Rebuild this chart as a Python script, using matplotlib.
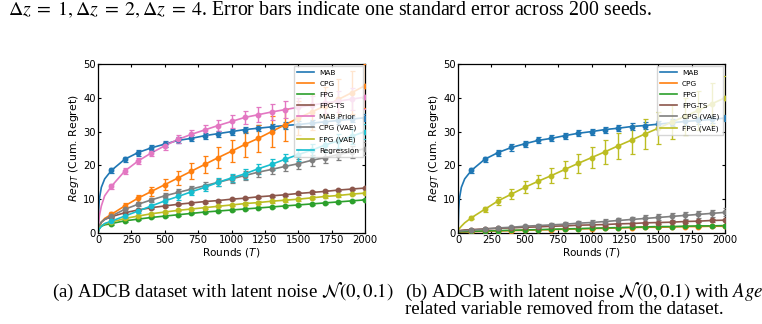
import matplotlib
matplotlib.use("Agg")
import matplotlib.pyplot as plt
import numpy as np

# ---------------- data ----------------
rounds_early = [0, 5, 10, 25, 50]
rounds = [100, 200, 300, 400, 500, 600, 700, 800, 900, 1000,
          1100, 1200, 1300, 1400, 1500, 1600, 1700, 1800, 1900, 2000]
x_ticks = [0, 250, 500, 750, 1000, 1250, 1500, 1750, 2000]
y_ticks = [0, 10, 20, 30, 40, 50]

# Panel (a)
a_labels = ["MAB", "CPG", "FPG", "FPG-TS", "MAB Prior", "CPG (VAE)", "FPG (VAE)", "Regression"]
a_colors = ["#1f77b4", "#ff7f0e", "#2ca02c", "#8c564b", "#e377c2", "#7f7f7f", "#bcbd22", "#17becf"]

a_mab_early = [0, 7, 10, 13.5, 16]
a_mab = [18.5, 21.8, 23.8, 25.2, 26.3, 27.4, 28.0, 28.8, 29.4, 30.0,
         30.6, 31.0, 31.4, 31.8, 32.1, 32.5, 32.9, 33.3, 33.7, 34.1]
a_mab_err = [0.7, 0.8, 0.9, 0.9, 0.9, 0.9, 0.9, 0.9, 0.9, 0.9,
             0.9, 0.9, 0.9, 0.9, 0.9, 1.0, 1.0, 1.0, 1.0, 1.0]

a_cpg_early = [0, 1.2, 2.0, 3.2, 4.3]
a_cpg = [5.5, 8.0, 10.3, 12.3, 14.3, 16.3, 18.3, 20.3, 22.3, 24.2,
         26.2, 28.0, 30.0, 32.0, 34.0, 35.8, 37.6, 39.5, 41.5, 43.6]
a_cpg_err = [0.6, 0.8, 1.0, 1.3, 1.6, 2.0, 2.3, 2.6, 3.0, 3.3,
             3.8, 4.0, 4.5, 4.8, 5.0, 5.3, 5.6, 6.0, 6.3, 6.5]

a_fpg_early = [0, 0.9, 1.3, 2.0, 2.4]
a_fpg = [2.8, 3.6, 4.1, 4.6, 5.0, 5.4, 5.8, 6.2, 6.5, 6.8,
         7.1, 7.4, 7.7, 8.0, 8.3, 8.6, 8.9, 9.2, 9.5, 9.8]
a_fpg_err = [0.3, 0.3, 0.3, 0.3, 0.3, 0.3, 0.3, 0.3, 0.3, 0.3,
             0.3, 0.3, 0.3, 0.3, 0.3, 0.3, 0.3, 0.3, 0.3, 0.3]

a_fpgts_early = [0, 1.3, 2.0, 3.2, 4.0]
a_fpgts = [4.8, 6.0, 6.8, 7.5, 8.0, 8.5, 8.9, 9.3, 9.6, 10.0,
           10.3, 10.7, 11.0, 11.3, 11.7, 12.0, 12.3, 12.7, 13.0, 13.3]
a_fpgts_err = [0.3, 0.3, 0.3, 0.3, 0.3, 0.3, 0.3, 0.3, 0.3, 0.3,
               0.3, 0.3, 0.3, 0.3, 0.4, 0.4, 0.4, 0.4, 0.4, 0.4]

a_prior_early = [0, 3, 5, 8, 11]
a_prior = [13.8, 18.3, 21.3, 23.7, 25.8, 27.7, 29.2, 30.5, 31.8, 33.0,
           34.2, 35.0, 35.8, 36.5, 37.2, 37.8, 38.5, 39.0, 39.6, 40.2]
a_prior_err = [0.7, 0.8, 0.9, 1.0, 1.1, 1.2, 1.3, 1.4, 1.6, 1.8,
               2.0, 2.2, 2.4, 2.5, 2.7, 2.8, 3.0, 3.1, 3.3, 3.5]

a_cpgvae_early = [0, 1.3, 2.0, 3.2, 4.0]
a_cpgvae = [5.0, 7.0, 8.5, 9.8, 11.0, 12.0, 13.0, 14.0, 15.0, 16.0,
            17.0, 18.0, 18.8, 19.7, 20.5, 21.5, 22.3, 23.2, 24.0, 25.0]
a_cpgvae_err = [0.4, 0.5, 0.6, 0.7, 0.8, 0.9, 1.0, 1.0, 1.1, 1.2,
                1.2, 1.3, 1.4, 1.5, 1.5, 1.6, 1.7, 1.7, 1.8, 1.9]

a_fpgvae_early = [0, 1.0, 1.5, 2.2, 2.7]
a_fpgvae = [3.2, 4.3, 5.0, 5.7, 6.2, 6.7, 7.1, 7.5, 7.9, 8.3,
            8.7, 9.0, 9.4, 9.7, 10.0, 10.4, 10.8, 11.1, 11.5, 11.8]
a_fpgvae_err = [0.3, 0.3, 0.3, 0.3, 0.3, 0.3, 0.3, 0.3, 0.3, 0.3,
                0.4, 0.4, 0.4, 0.4, 0.4, 0.4, 0.4, 0.4, 0.4, 0.4]

a_reg_early = [0, 0.8, 1.2, 2.0, 2.8]
a_reg = [3.5, 5.0, 6.5, 8.0, 9.5, 10.8, 12.2, 13.5, 15.0, 16.3,
         17.5, 19.0, 20.3, 21.8, 23.2, 24.5, 26.0, 27.3, 28.6, 30.0]
a_reg_err = [0.4, 0.5, 0.6, 0.7, 0.8, 0.9, 1.0, 1.1, 1.2, 1.3,
             1.4, 1.5, 1.6, 1.7, 1.8, 1.9, 2.0, 2.1, 2.2, 2.3]

# Panel (b)
b_labels = ["MAB", "CPG", "FPG", "FPG-TS", "CPG (VAE)", "FPG (VAE)"]
b_colors = ["#1f77b4", "#ff7f0e", "#2ca02c", "#8c564b", "#7f7f7f", "#bcbd22"]

b_mab_early = [0, 7, 10, 13.5, 16]
b_mab = [18.5, 21.8, 23.8, 25.3, 26.4, 27.4, 28.0, 28.8, 29.5, 30.0,
         30.6, 31.0, 31.5, 31.8, 32.2, 32.6, 33.0, 33.3, 33.6, 34.0]
b_mab_err = [0.7, 0.8, 0.9, 0.9, 0.9, 0.9, 0.9, 0.9, 0.9, 0.9,
             0.9, 0.9, 0.9, 0.9, 0.9, 1.0, 1.0, 1.0, 1.0, 1.0]

b_cpg_early = [0.2, 0.2, 0.2, 0.3, 0.3]
b_cpg = [0.4, 0.5, 0.6, 0.7, 0.8, 0.9, 1.0, 1.1, 1.2, 1.3,
         1.4, 1.5, 1.6, 1.7, 1.7, 1.8, 1.9, 1.9, 2.0, 2.0]
b_cpg_err = [0.1, 0.1, 0.1, 0.1, 0.1, 0.1, 0.1, 0.1, 0.1, 0.1,
             0.1, 0.1, 0.1, 0.1, 0.1, 0.1, 0.1, 0.1, 0.1, 0.1]

b_fpg_early = [0.3, 0.3, 0.3, 0.4, 0.4]
b_fpg = [0.5, 0.6, 0.7, 0.8, 0.9, 1.0, 1.1, 1.2, 1.3, 1.4,
         1.5, 1.6, 1.7, 1.8, 1.9, 1.9, 2.0, 2.1, 2.1, 2.2]
b_fpg_err = [0.1, 0.1, 0.1, 0.1, 0.1, 0.1, 0.1, 0.1, 0.1, 0.1,
             0.1, 0.1, 0.1, 0.1, 0.2, 0.2, 0.2, 0.2, 0.2, 0.2]

b_fpgts_early = [0.6, 0.6, 0.7, 0.8, 0.9]
b_fpgts = [1.0, 1.2, 1.4, 1.5, 1.7, 1.8, 2.0, 2.1, 2.3, 2.4,
           2.5, 2.7, 2.8, 3.0, 3.1, 3.2, 3.4, 3.5, 3.7, 3.8]
b_fpgts_err = [0.2, 0.2, 0.2, 0.2, 0.2, 0.2, 0.2, 0.2, 0.2, 0.3,
               0.3, 0.3, 0.3, 0.3, 0.3, 0.3, 0.3, 0.3, 0.3, 0.3]

b_cpgvae_early = [0.5, 0.5, 0.6, 0.6, 0.7]
b_cpgvae = [0.8, 1.2, 1.5, 1.7, 2.0, 2.2, 2.4, 2.6, 2.9, 3.1,
            3.4, 3.7, 4.0, 4.3, 4.6, 4.9, 5.2, 5.5, 5.8, 6.1]
b_cpgvae_err = [0.3, 0.3, 0.3, 0.4, 0.4, 0.5, 0.5, 0.6, 0.6, 0.7,
                0.7, 0.8, 0.8, 0.9, 0.9, 1.0, 1.0, 1.1, 1.1, 1.2]

b_fpgvae_early = [0.8, 1.0, 1.3, 2.0, 3.0]
b_fpgvae = [4.5, 7.0, 9.5, 11.5, 13.5, 15.3, 17.0, 18.8, 20.6, 22.3,
            24.0, 25.8, 27.5, 29.3, 31.0, 32.8, 34.5, 36.3, 38.2, 40.0]
b_fpgvae_err = [0.5, 0.7, 1.1, 1.5, 1.8, 2.0, 2.3, 2.6, 2.9, 3.2,
                3.6, 3.9, 4.2, 4.5, 4.8, 5.1, 5.4, 5.8, 6.1, 6.5]

# ---------------- plotting ----------------
plt.rcParams['mathtext.fontset'] = 'dejavusans'

fig = plt.figure(figsize=(7.62, 3.24), dpi=100)
W, H = 762.0, 324.0
ax_a = fig.add_axes([98 / W, 1 - 233 / H, 267 / W, 169 / H])
ax_b = fig.add_axes([458 / W, 1 - 233 / H, 267 / W, 169 / H])


def draw(ax, series, labels, colors):
    handles = []
    for (early, mean, err), lab, col in zip(series, labels, colors):
        xs = list(rounds_early) + list(rounds)
        ys = list(early) + list(mean)
        ln, = ax.plot(xs, ys, color=col, lw=1.2, label=lab, zorder=2)
        ax.errorbar(rounds, mean, yerr=err, fmt='o', color=col, ms=3.2,
                    elinewidth=1.0, capsize=1.8, capthick=0.9, zorder=3)
        handles.append(ln)
    ax.set_xlim(0, 2000)
    ax.set_ylim(0, 50)
    ax.set_xticks(x_ticks)
    ax.set_yticks(y_ticks)
    ax.tick_params(direction='in', top=True, right=True, labelsize=7.2,
                   length=2.5, width=0.8, pad=1.5, colors='black')
    for s in ax.spines.values():
        s.set_linewidth(0.9)
    ax.set_xlabel("Rounds ($T$)", fontsize=7.6, labelpad=0.5)
    ax.set_ylabel("$Reg_T$ (Cum. Regret)", fontsize=7.8, labelpad=1.5)
    ax.legend(handles=handles, loc='upper right', fontsize=5.3,
              handlelength=2.3, borderaxespad=0.3, labelspacing=0.66,
              framealpha=0.8, fancybox=False, edgecolor='#cccccc',
              borderpad=0.45, handletextpad=0.7)


draw(ax_a,
     [(a_mab_early, a_mab, a_mab_err), (a_cpg_early, a_cpg, a_cpg_err),
      (a_fpg_early, a_fpg, a_fpg_err), (a_fpgts_early, a_fpgts, a_fpgts_err),
      (a_prior_early, a_prior, a_prior_err), (a_cpgvae_early, a_cpgvae, a_cpgvae_err),
      (a_fpgvae_early, a_fpgvae, a_fpgvae_err), (a_reg_early, a_reg, a_reg_err)],
     a_labels, a_colors)

draw(ax_b,
     [(b_mab_early, b_mab, b_mab_err), (b_cpg_early, b_cpg, b_cpg_err),
      (b_fpg_early, b_fpg, b_fpg_err), (b_fpgts_early, b_fpgts, b_fpgts_err),
      (b_cpgvae_early, b_cpgvae, b_cpgvae_err), (b_fpgvae_early, b_fpgvae, b_fpgvae_err)],
     b_labels, b_colors)

# ---------------- surrounding text ----------------
serif = dict(family='Liberation Serif', color='black')
fig.text(8 / W, 1 - 10 / H,
         r"$\Delta z\;=\;1, \Delta z\;=\;2, \Delta z\;=\;4$. Error bars indicate one standard error across 200 seeds.",
         fontsize=14.3, va='center', ha='left', math_fontfamily='stix', **serif)
fig.text(52 / W, 1 - 292 / H,
         r"(a) ADCB dataset with latent noise $\mathcal{N}(0, 0.1)$",
         fontsize=13.6, va='center', ha='left', math_fontfamily='stix', **serif)
fig.text(405 / W, 1 - 292 / H,
         r"(b) ADCB with latent noise $\mathcal{N}(0, 0.1)$ with $Age$",
         fontsize=13.6, va='center', ha='left', math_fontfamily='stix', **serif)
fig.text(405 / W, 1 - 310 / H,
         "related variable removed from the dataset.",
         fontsize=13.6, va='center', ha='left', **serif)

fig.savefig("out.png", dpi=100)
